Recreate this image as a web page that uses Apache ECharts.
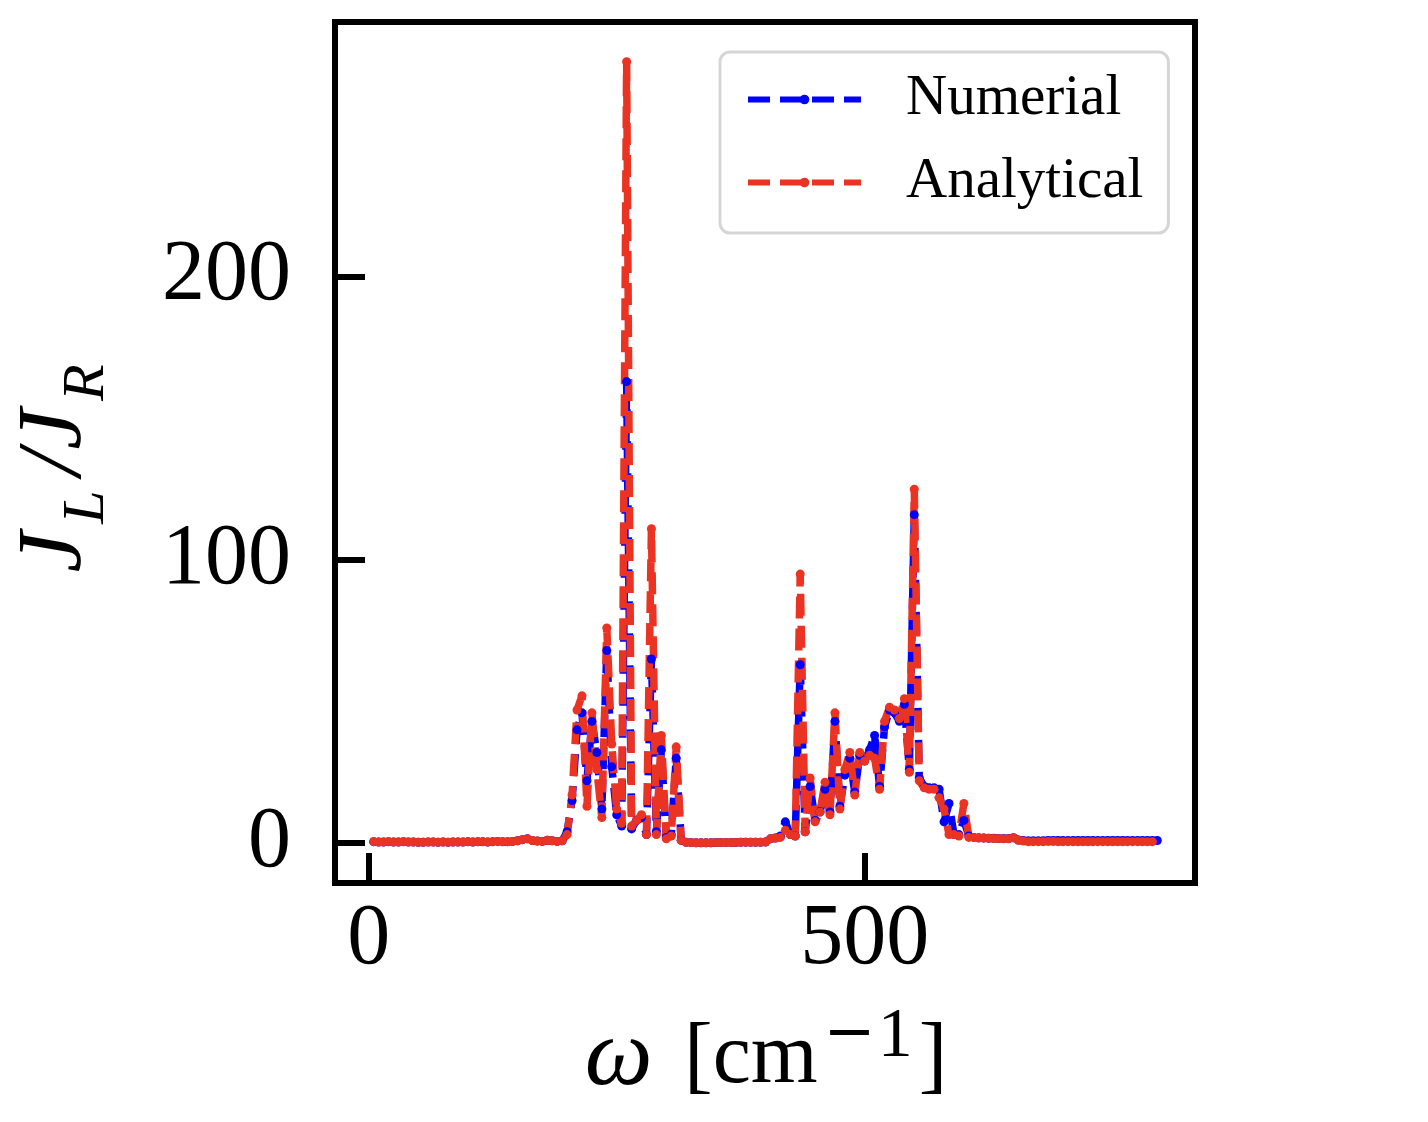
<!DOCTYPE html>
<html>
<head>
<meta charset="utf-8">
<script src="https://cdn.jsdelivr.net/npm/echarts@6/dist/echarts.min.js"></script>
<style>html,body{margin:0;background:#fff}#chart{width:1428px;height:1122px}</style>
</head>
<body>
<div id="chart"></div>
<script>
// frequency grid, cm^-1
const omega = [
  5, 10, 15, 20, 25, 30, 35, 40, 45, 50, 55, 60, 65, 70, 75, 80, 85, 90, 95, 100,
  105, 110, 115, 120, 125, 130, 135, 140, 145, 150, 155, 160, 165, 170, 175, 180, 185, 190, 195, 200,
  205, 210, 215, 220, 225, 230, 235, 240, 245, 250, 255, 260, 265, 270, 275, 280, 285, 290, 295, 300,
  305, 310, 315, 320, 325, 330, 335, 340, 345, 350, 355, 360, 365, 370, 375, 380, 385, 390, 395, 400,
  405, 410, 415, 420, 425, 430, 435, 440, 445, 450, 455, 460, 465, 470, 475, 480, 485, 490, 495, 500,
  505, 510, 515, 520, 525, 530, 535, 540, 545, 550, 555, 560, 565, 570, 575, 580, 585, 590, 595, 600,
  605, 610, 615, 620, 625, 630, 635, 640, 645, 650, 655, 660, 665, 670, 675, 680, 685, 690, 695, 700,
  705, 710, 715, 720, 725, 730, 735, 740, 745, 750, 755, 760, 765, 770, 775, 780, 785, 790, 795
];

// J_L / J_R, numerical (5 .. 795)
const numerical = [
  0.5, 0.4, 0.4, 0.5, 0.4, 0.4, 0.5, 0.4, 0.4, 0.3, 0.3, 0.4, 0.4, 0.3, 0.4, 0.3, 0.4, 0.4, 0.4, 0.5,
  0.4, 0.5, 0.5, 0.4, 0.5, 0.6, 0.5, 0.5, 0.6, 0.8, 1.2, 1.5, 0.9, 0.7, 0.6, 1.0, 0.8, 0.6, 0.8, 4,
  15, 40, 46, 22, 43, 32, 12, 68, 27, 10, 6, 163, 5, 8, 9, 3, 65, 4, 33, 2,
  3, 30, 1, 0.3, 0.2, 0.1, 0.1, 0.1, 0.1, 0.2, 0.2, 0.2, 0.2, 0.2, 0.3, 0.3, 0.3, 0.3, 0.3, 0.4,
  1.5, 1.8, 2.5, 7.5, 3, 2.5, 63, 4, 20, 8, 11, 19, 11, 43, 13, 24, 30, 18, 31, 29,
  33, 38, 20, 41, 47, 46, 43, 49, 26, 116, 23, 20, 19.5, 19.5, 19, 7.5, 14, 3, 3, 8,
  2.5, 2, 1.9, 1.8, 1.7, 1.7, 1.6, 1.6, 1.6, 1.9, 1.1, 0.9, 0.8, 0.8, 0.8, 0.8, 0.9, 0.9, 0.9, 0.9,
  0.9, 0.9, 0.9, 0.9, 0.9, 0.9, 0.9, 0.9, 0.9, 0.9, 0.9, 0.9, 0.9, 0.9, 0.9, 0.9, 0.9, 0.9, 0.9
];

// J_L / J_R, analytical (5 .. 790)
const analytical = [
  0.5, 0.4, 0.4, 0.5, 0.4, 0.4, 0.5, 0.4, 0.4, 0.3, 0.3, 0.4, 0.4, 0.3, 0.4, 0.3, 0.4, 0.4, 0.4, 0.5,
  0.4, 0.5, 0.5, 0.4, 0.5, 0.6, 0.5, 0.5, 0.6, 0.8, 1.2, 1.5, 0.9, 0.7, 0.6, 1.0, 0.8, 0.6, 0.8, 3,
  17, 47, 52, 13, 46, 26, 9, 76, 35, 12, 7, 276, 6, 8, 10, 3, 111, 3, 38, 1.5,
  2.5, 34, 1, 0.3, 0.2, 0.1, 0.1, 0.1, 0.1, 0.2, 0.2, 0.2, 0.2, 0.2, 0.3, 0.3, 0.3, 0.3, 0.3, 0.4,
  1.5, 1.8, 2, 4.5, 3, 2.5, 95, 4, 23, 7.5, 11, 21.5, 10, 46, 12, 26, 32, 17, 32, 29,
  31, 30, 19, 43, 48, 47, 44, 51, 25, 125, 22, 19.5, 19, 19, 16, 12, 3, 3, 2.5, 14,
  2, 2, 1.8, 1.8, 1.7, 1.6, 1.6, 1.5, 1.5, 1.9, 1.0, 0.7, 0.5, 0.5, 0.5, 0.5, 0.6, 0.6, 0.5, 0.5,
  0.5, 0.5, 0.5, 0.5, 0.5, 0.5, 0.5, 0.5, 0.5, 0.5, 0.5, 0.5, 0.5, 0.5, 0.5, 0.5, 0.5, 0.5
];

const xTicks = [0, 500];
const yTicks = [0, 100, 200];

function pairs(xs, ys) {
  return ys.map(function (y, i) { return [xs[i], y]; });
}

var serif = 'Liberation Serif';
var chart = echarts.init(document.getElementById('chart'));

var option = {
  animation: false,
  backgroundColor: '#fff',
  grid: {
    left: 335, right: 233, top: 22, bottom: 239,
    show: true, borderColor: '#000', borderWidth: 6
  },
  legend: {
    orient: 'vertical',
    left: 720, top: 52,
    padding: [19, 25, 22, 25],
    itemWidth: 113, itemHeight: 12, itemGap: 26,
    backgroundColor: '#fff',
    borderColor: '#d6d6d6', borderWidth: 3, borderRadius: 10,
    lineStyle: { width: 6, type: [22, 10] },
    textStyle: { fontFamily: serif, fontSize: 57, color: '#000', padding: [0, 0, 0, 40] },
    data: ['Numerial', 'Analytical']
  },
  xAxis: {
    type: 'value', min: -34, max: 833,
    axisLine: { show: false, onZero: false },
    splitLine: { show: false },
    axisTick: { inside: true, length: 30, customValues: xTicks, lineStyle: { color: '#000', width: 6 } },
    axisLabel: { customValues: xTicks, margin: 14, fontFamily: serif, fontSize: 86, color: '#000' }
  },
  yAxis: {
    type: 'value', min: -14.1, max: 290,
    axisLine: { show: false, onZero: false },
    splitLine: { show: false },
    axisTick: { inside: true, length: 30, customValues: yTicks, lineStyle: { color: '#000', width: 6 } },
    axisLabel: { customValues: yTicks, margin: 44, fontFamily: serif, fontSize: 86, color: '#000' }
  },
  series: [
    {
      name: 'Numerial', type: 'line',
      data: pairs(omega, numerical),
      symbol: 'circle', symbolSize: 9, showAllSymbol: true,
      itemStyle: { color: '#0000ff' },
      lineStyle: { color: '#0000ff', width: 7.5, type: [22, 10] }
    },
    {
      name: 'Analytical', type: 'line',
      data: pairs(omega, analytical),
      symbol: 'circle', symbolSize: 9, showAllSymbol: true,
      itemStyle: { color: '#eb3323' },
      lineStyle: { color: '#eb3323', width: 7.5, type: [22, 10] }
    }
  ],
  graphic: [
    {
      type: 'text', x: 56, y: 467, rotation: Math.PI / 2,
      style: {
        text: '{j|J}{s|L}{j|/J}{s|R}',
        align: 'center', verticalAlign: 'middle',
        rich: {
          j: { fontFamily: serif, fontStyle: 'italic', fontSize: 92, lineHeight: 92, padding: [0, 6, 0, 6] },
          s: { fontFamily: serif, fontStyle: 'italic', fontSize: 60, lineHeight: 60, padding: [62, 9, 0, 2] }
        }
      }
    },
    {
      type: 'text', x: 766, y: 1059,
      style: {
        text: '{w|ω} {n|[cm}{m|−}{p|1}{n|]}',
        align: 'center', verticalAlign: 'middle',
        font: '86px ' + serif,
        rich: {
          w: { fontFamily: serif, fontStyle: 'italic', fontSize: 96, lineHeight: 86, padding: [0, 10, 0, 0] },
          n: { fontFamily: serif, fontSize: 86, lineHeight: 86 },
          m: { fontFamily: 'DejaVu Serif', fontSize: 62, lineHeight: 62, padding: [0, 2, 46, 6] },
          p: { fontFamily: serif, fontSize: 70, lineHeight: 70, padding: [0, 6, 42, 0] }
        }
      }
    }
  ]
};

chart.setOption(option);
</script>
</body>
</html>
